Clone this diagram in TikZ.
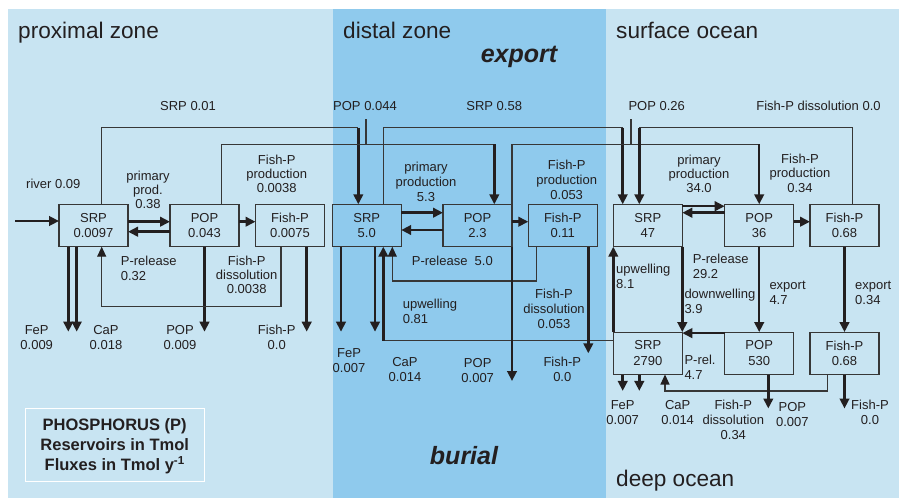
\documentclass[tikz,border=0pt]{standalone}
\usepackage{fontspec}
\setmainfont{Liberation Sans}
\usetikzlibrary{arrows.meta}
\definecolor{bglight}{RGB}{200,228,242}
\definecolor{bgdark}{RGB}{143,202,237}
\definecolor{ink}{RGB}{35,31,32}
\definecolor{edge}{RGB}{55,55,55}
\begin{document}
\begin{tikzpicture}[x=1pt,y=-1pt,
  box/.style={draw=edge, line width=1.1pt, minimum width=69pt, minimum height=42.4pt, inner sep=0pt, outer sep=0pt, align=center, font=\fontsize{13}{15.6}\selectfont, text=ink},
  lbl/.style={font=\fontsize{13}{15}\selectfont, text=ink, inner sep=0pt, align=center, anchor=base},
  lbltight/.style={lbl, font=\fontsize{13}{14.4}\selectfont},
  lbll/.style={lbl, align=left, anchor=base west},
  flow/.style={draw=ink, line width=2.5pt, -{Triangle[length=10pt,width=9.5pt]}},
  thinline/.style={draw=edge, line width=1.2pt},
  thinflow/.style={draw=edge, line width=1.2pt, -{Triangle[length=10pt,width=9pt,color=ink]}},
  zone/.style={font=\fontsize{22.6}{27}\selectfont, text=ink, inner sep=0pt, anchor=base west},
  big/.style={font=\fontsize{25}{30}\selectfont\bfseries\itshape, text=ink, inner sep=0pt, anchor=base},
]
\useasboundingbox (0,0) rectangle (899,498);
\fill[white] (0,0) rectangle (899,498);
\fill[bglight] (8,9) rectangle (899,498);
\fill[bgdark] (333,9) rectangle (606,498);

% zone titles
\node[zone] (tprox) at (18,38) {proximal zone};
\node[zone] (tdist) at (343,38) {distal zone};
\node[zone] (tsurf) at (616,38) {surface ocean};
\node[zone] (tdeep) at (616,486) {deep ocean};
\node[big] (texport) at (519,62) {export};
\node[big] (tburial) at (464,464.3) {burial};

% reservoirs
\node[box] (pSRP) at (93.5,225.5) {SRP\\0.0097};
\node[box] (pPOP) at (204.5,225.5) {POP\\0.043};
\node[box] (pFish) at (290,225.5) {Fish-P\\0.0075};
\node[box] (dSRP) at (366.7,225.5) {SRP\\5.0};
\node[box] (dPOP) at (477.5,225.5) {POP\\2.3};
\node[box] (dFish) at (562.8,225.5) {Fish-P\\0.11};
\node[box] (sSRP) at (647.8,225.5) {SRP\\47};
\node[box] (sPOP) at (759.2,225.5) {POP\\36};
\node[box] (sFish) at (844.5,225.5) {Fish-P\\0.68};
\node[box] (ySRP) at (647.8,353.3) {SRP\\2790};
\node[box] (yPOP) at (759.2,353.3) {POP\\530};
\node[box] (yFish) at (844.5,353.3) {Fish-P\\0.68};

% proximal fluxes
\coordinate (riverin) at (15,221);
\draw[flow] (riverin) -- ([yshift=4.5pt]pSRP.west);
\draw[flow] ([yshift=3.8pt]pSRP.east) -- ([yshift=3.8pt]pPOP.west);
\draw[flow] ([yshift=-6.2pt]pPOP.west) -- ([yshift=-6.2pt]pSRP.east);
\draw[flow] ([yshift=3.8pt]pPOP.east) -- ([yshift=3.8pt]pFish.west);
\draw[flow] ([xshift=-25.2pt]pSRP.south) -- ++(0,85);
\draw[flow] ([xshift=-16.8pt]pSRP.south) -- ++(0,85);
\draw[flow] (pPOP.south) -- ++(0,85);
\draw[flow] ([xshift=16.7pt]pFish.south) -- ++(0,85);
\draw[thinflow] ([xshift=-9pt]pFish.south) -- ++(0,60) -| ([xshift=8.2pt]pSRP.south);

% export connectors along the top
\coordinate (lvA) at (0,127.7);
\coordinate (lvB) at (0,144.3);
\draw[thinline] ([xshift=8.2pt]pSRP.north) |- ([xshift=-8.4pt]dSRP.north |- lvA);
\draw[flow] ([xshift=-8.4pt]dSRP.north |- lvA) -- ([xshift=-8.4pt]dSRP.north);
\draw[thinline] ([xshift=17.2pt]pPOP.north) |- ([xshift=16.8pt]dPOP.north |- lvB);
\draw[flow] ([xshift=16.8pt]dPOP.north |- lvB) -- ([xshift=16.8pt]dPOP.north);
\coordinate (tickA) at (366,119);
\draw[thinline] (tickA) -- (tickA |- lvB);
\draw[thinline] ([xshift=16.6pt]dSRP.north) |- ([xshift=-25.1pt]sSRP.north |- lvA);
\draw[flow] ([xshift=-25.1pt]sSRP.north |- lvA) -- ([xshift=-25.1pt]sSRP.north);
\draw[thinline] (dPOP.north east) |- (sPOP.north |- lvB);
\draw[flow] (sPOP.north |- lvB) -- (sPOP.north);
\coordinate (tickB) at (631,119);
\draw[thinline] (tickB) -- (tickB |- lvB);
\draw[thinline] ([xshift=8.2pt]sFish.north) |- ([xshift=-8.5pt]sSRP.north |- lvA);
\draw[flow] ([xshift=-8.5pt]sSRP.north |- lvA) -- ([xshift=-8.5pt]sSRP.north);

% distal fluxes
\draw[flow] ([yshift=12.8pt]dSRP.east) -- ([yshift=12.8pt]dPOP.west);
\draw[flow] ([yshift=-4.5pt]dPOP.west) -- ([yshift=-4.5pt]dSRP.east);
\draw[flow] ([yshift=3.8pt]dPOP.east) -- ([yshift=3.8pt]dFish.west);
\draw[flow] ([xshift=-25.7pt]dSRP.south) -- ++(0,85);
\draw[flow] ([xshift=8.3pt]dSRP.south) -- ++(0,85);
\draw[thinflow] ([xshift=-26.1pt]dFish.south) -- ++(0,34.3) -| ([xshift=25.6pt]dSRP.south);
\coordinate (lvU) at (0,340.7);
\draw[thinline] (ySRP.west |- lvU) -- ([xshift=16.6pt]dSRP.south |- lvU);
\draw[flow] ([xshift=16.6pt]dSRP.south |- lvU) -- ([xshift=16.6pt]dSRP.south);
\draw[flow] (dPOP.south east) -- ++(0,134.3);
\draw[flow] ([xshift=25.5pt]dFish.south) -- ++(0,106.6);

% ocean fluxes
\draw[flow] ([yshift=19.3pt]sSRP.east) -- ([yshift=19.3pt]sPOP.west);
\draw[flow] ([yshift=12.8pt]sPOP.west) -- ([yshift=12.8pt]sSRP.east);
\draw[flow] ([yshift=3.8pt]sPOP.east) -- ([yshift=3.8pt]sFish.west);
\draw[flow] (sPOP.south) -- (yPOP.north);
\draw[flow] (sFish.south) -- (yFish.north);
\draw[flow] (ySRP.north west) -- (sSRP.south west);
\draw[flow] (sSRP.south east) -- (ySRP.north east);
\draw[flow] ([yshift=-1pt]yPOP.north west) -- ([yshift=-1pt]ySRP.north east);
\draw[flow] ([xshift=-25.1pt]ySRP.south) -- ++(0,16.4);
\draw[flow] ([xshift=-8.5pt]ySRP.south) -- ++(0,16.4);
\draw[thinflow] ([xshift=-16.8pt]yFish.south) -- ++(0,16.4) -| ([xshift=17.2pt]ySRP.south);
\draw[flow] ([xshift=9.1pt]yPOP.south) -- ++(0,34);
\draw[flow] (yFish.south) -- ++(0,34);

% labels: top
\node[lbl] (lSRPa) at (188,110.8) {SRP 0.01};
\node[lbl] (lPOPa) at (365,110.8) {POP 0.044};
\node[lbl] (lSRPb) at (494.2,110.8) {SRP 0.58};
\node[lbl] (lPOPb) at (656.7,110.8) {POP 0.26};
\node[lbl] (lFdis) at (818.5,110.8) {Fish-P dissolution 0.0};

% labels: proximal (base = last line)
\node[lbl] (lriver) at (53.3,188.3) {river 0.09};
\node[lbltight] (lpp1) at (148,208.8) {primary\\prod.\\0.38};
\node[lbltight] (lfp1) at (276.7,192.8) {Fish-P\\production\\0.0038};
\node[lbll] (lpr1) at (120.7,280) {P-release\\0.32};
\node[lbltight] (lfd1) at (246.7,293.8) {Fish-P\\dissolution\\0.0038};
\node[lbl] (lfe1) at (36.7,349) {FeP\\0.009};
\node[lbl] (lca1) at (106,349) {CaP\\0.018};
\node[lbl] (lpo1) at (180,349) {POP\\0.009};
\node[lbl] (lfi1) at (276.7,349) {Fish-P\\0.0};

% labels: distal
\node[lbl] (lpp2) at (426,201.7) {primary\\production\\5.3};
\node[lbl] (lfp2) at (566.7,199.3) {Fish-P\\production\\0.053};
\node[lbll] (lpr2) at (411.7,265) {P-release\ \ 5.0};
\node[lbll] (lup2) at (402.7,323.3) {upwelling\\0.81};
\node[lbl] (lfd2) at (554,328.3) {Fish-P\\dissolution\\0.053};
\node[lbl] (lfe2) at (349,372.5) {FeP\\0.007};
\node[lbl] (lca2) at (405,381.7) {CaP\\0.014};
\node[lbl] (lpo2) at (477.7,382.7) {POP\\0.007};
\node[lbl] (lfi2) at (562.3,381.7) {Fish-P\\0.0};

% labels: ocean
\node[lbltight] (lpp3) at (699,192.8) {primary\\production\\34.0};
\node[lbltight] (lfp3) at (800,192.3) {Fish-P\\production\\0.34};
\node[lbll] (lpr3) at (692.7,278) {P-release\\29.2};
\node[lbll] (lup3) at (616,288) {upwelling\\8.1};
\node[lbll] (ldw3) at (684.3,313.3) {downwelling\\3.9};
\node[lbll] (lex3) at (769.3,304.5) {export\\4.7};
\node[lbll] (lex4) at (855,304.5) {export\\0.34};
\node[lbll] (lpr4) at (684.3,379.5) {P-rel.\\4.7};
\node[lbl] (lfe3) at (622.7,424) {FeP\\0.007};
\node[lbl] (lca3) at (677.7,424) {CaP\\0.014};
\node[lbl] (lfd3) at (733.3,439.5) {Fish-P\\dissolution\\0.34};
\node[lbl] (lpo3) at (792.3,426) {POP\\0.007};
\node[lbl] (lfi3) at (870,424.3) {Fish-P\\0.0};

% legend
\node[draw=white, line width=1pt, minimum width=179.3pt, minimum height=73.4pt, inner sep=0pt] (legend) at (114.7,445) {};
\node[font=\fontsize{16.5}{20}\selectfont\bfseries, text=ink, align=center, inner sep=0pt] (legendtext) at (114.7,446) {PHOSPHORUS (P)\\Reservoirs in Tmol\\Fluxes in Tmol y\textsuperscript{-1}};
\end{tikzpicture}
\end{document}
